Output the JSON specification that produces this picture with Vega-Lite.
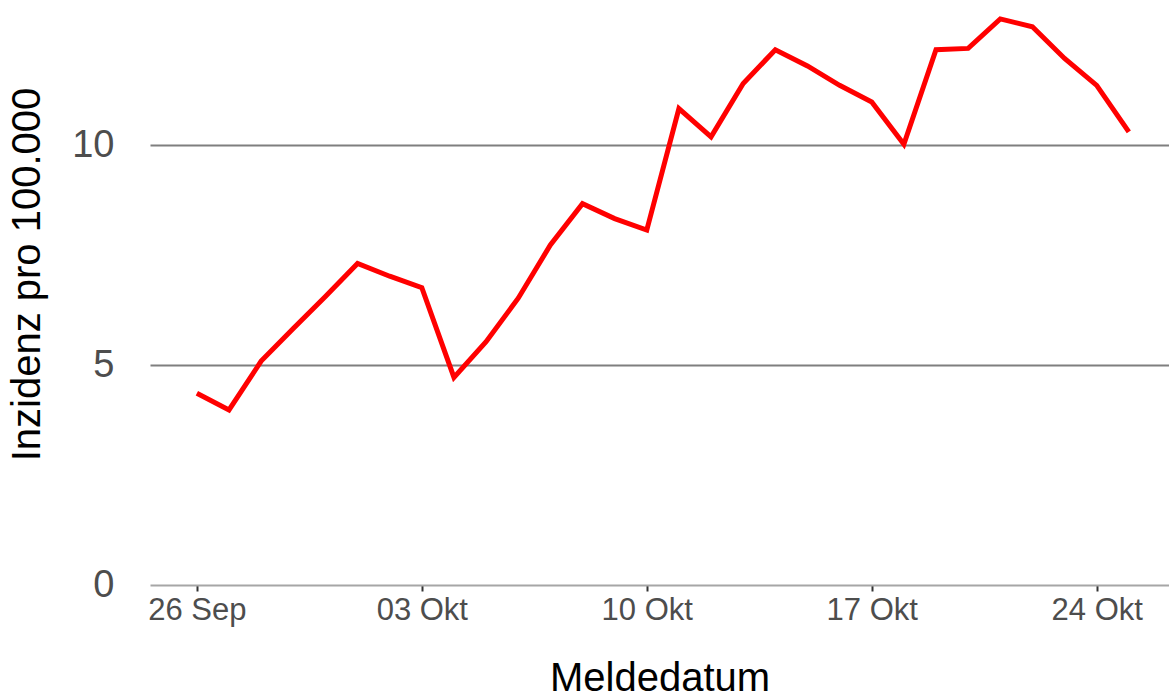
{
  "$schema": "https://vega.github.io/schema/vega-lite/v6.json",
  "width": 1019,
  "height": 585,
  "autosize": {"type": "none"},
  "padding": {"left": 150, "top": 0, "right": 0, "bottom": 112},
  "background": "white",
  "config": {
    "view": {"stroke": null},
    "font": "Liberation Sans"
  },
  "data": {
    "values": [
      {"datum": "2020-09-26", "inzidenz": 4.36},
      {"datum": "2020-09-27", "inzidenz": 3.98},
      {"datum": "2020-09-28", "inzidenz": 5.09},
      {"datum": "2020-09-29", "inzidenz": 5.83},
      {"datum": "2020-09-30", "inzidenz": 6.56},
      {"datum": "2020-10-01", "inzidenz": 7.31},
      {"datum": "2020-10-02", "inzidenz": 7.02},
      {"datum": "2020-10-03", "inzidenz": 6.76},
      {"datum": "2020-10-04", "inzidenz": 4.72},
      {"datum": "2020-10-05", "inzidenz": 5.53},
      {"datum": "2020-10-06", "inzidenz": 6.52},
      {"datum": "2020-10-07", "inzidenz": 7.73},
      {"datum": "2020-10-08", "inzidenz": 8.67},
      {"datum": "2020-10-09", "inzidenz": 8.33},
      {"datum": "2020-10-10", "inzidenz": 8.07},
      {"datum": "2020-10-11", "inzidenz": 10.83},
      {"datum": "2020-10-12", "inzidenz": 10.19},
      {"datum": "2020-10-13", "inzidenz": 11.4},
      {"datum": "2020-10-14", "inzidenz": 12.17},
      {"datum": "2020-10-15", "inzidenz": 11.8},
      {"datum": "2020-10-16", "inzidenz": 11.36},
      {"datum": "2020-10-17", "inzidenz": 10.98},
      {"datum": "2020-10-18", "inzidenz": 10.02},
      {"datum": "2020-10-19", "inzidenz": 12.17},
      {"datum": "2020-10-20", "inzidenz": 12.2},
      {"datum": "2020-10-21", "inzidenz": 12.87},
      {"datum": "2020-10-22", "inzidenz": 12.69},
      {"datum": "2020-10-23", "inzidenz": 11.97},
      {"datum": "2020-10-24", "inzidenz": 11.36},
      {"datum": "2020-10-25", "inzidenz": 10.3}
    ]
  },
  "mark": {"type": "line", "color": "#ff0000", "strokeWidth": 5, "strokeJoin": "miter", "strokeCap": "butt"},
  "encoding": {
    "x": {
      "field": "datum",
      "type": "temporal",
      "title": "Meldedatum",
      "scale": {
        "type": "utc",
        "domain": [
          {"year": 2020, "month": 9, "date": 24, "hours": 13, "utc": true},
          {"year": 2020, "month": 10, "date": 26, "hours": 6, "utc": true}
        ]
      },
      "axis": {
        "values": [
          {"year": 2020, "month": 9, "date": 26, "utc": true},
          {"year": 2020, "month": 10, "date": 3, "utc": true},
          {"year": 2020, "month": 10, "date": 10, "utc": true},
          {"year": 2020, "month": 10, "date": 17, "utc": true},
          {"year": 2020, "month": 10, "date": 24, "utc": true}
        ],
        "labelExpr": "replace(utcFormat(datum.value, '%d %b'), 'Oct', 'Okt')",
        "grid": false,
        "domainColor": "#a6a6a6",
        "domainWidth": 2,
        "tickColor": "#333333",
        "tickWidth": 2,
        "tickSize": 6,
        "labelFont": "Liberation Sans",
        "labelFontSize": 31,
        "labelColor": "#4d4d4d",
        "labelPadding": 4,
        "labelFlush": false,
        "labelOverlap": false,
        "titleFont": "Liberation Sans",
        "titleFontSize": 40,
        "titleFontWeight": "normal",
        "titleColor": "#000000",
        "titlePadding": 33
      }
    },
    "y": {
      "field": "inzidenz",
      "type": "quantitative",
      "title": "Inzidenz pro 100.000",
      "scale": {"domain": [0, 13.3], "nice": false, "zero": true},
      "axis": {
        "values": [0, 5, 10],
        "domain": false,
        "ticks": false,
        "grid": true,
        "gridColor": "#7f7f7f",
        "gridWidth": 2,
        "gridOpacity": {"expr": "datum.value == 0 ? 0 : 1"},
        "labelFont": "Liberation Sans",
        "labelFontSize": 38,
        "labelColor": "#4d4d4d",
        "labelPadding": 36,
        "titleFont": "Liberation Sans",
        "titleFontSize": 40,
        "titleFontWeight": "normal",
        "titleColor": "#000000",
        "titlePadding": 24,
        "titleY": 274
      }
    }
  }
}
